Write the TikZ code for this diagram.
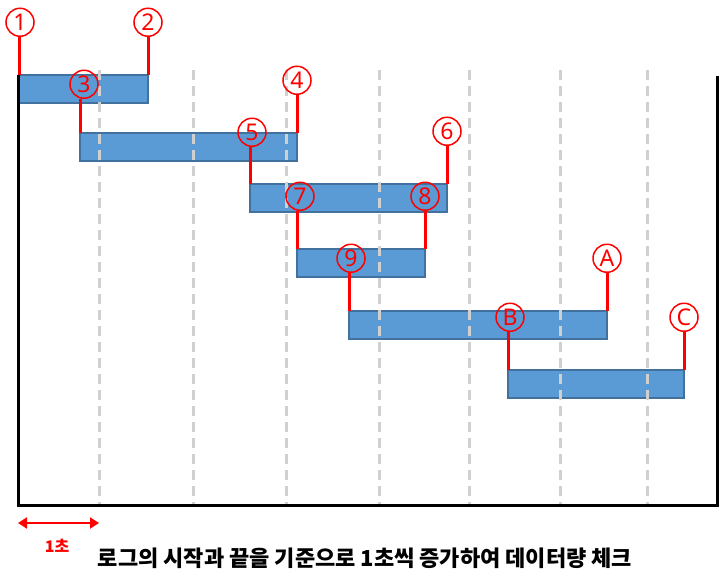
\documentclass[tikz,border=0pt]{standalone}
\usepackage{fontspec}
\setmainfont{Noto Sans}
\newfontfamily\kr{Noto Sans CJK KR}
\usepackage{xcolor}
\usepackage{tikz}
\usetikzlibrary{positioning,arrows.meta}
\definecolor{barblue}{HTML}{5B9BD5}
\definecolor{baredge}{HTML}{41719C}
\definecolor{gridgray}{HTML}{D0D0D0}
\tikzset{
    logbar/.style={rectangle, draw=baredge, fill=barblue, line width=1.5pt, inner sep=0pt, outer sep=0pt, minimum height=28pt, anchor=north west},
    numcirc/.style={circle, draw=red, line width=1.5pt, text=red, minimum size=28pt, inner sep=0pt, font=\fontsize{23}{23}\selectfont},
    redline/.style={red, line width=3pt},
    secline/.style={gridgray, line width=3pt, dash pattern=on 10pt off 6pt}
}

\begin{document}
\begin{tikzpicture}[x=1pt, y=-1pt]
    \useasboundingbox (0,0) rectangle (720,584);

    % log bars
    \node[logbar, minimum width=129pt] (b1) at (19,75) {};
    \node[logbar, minimum width=217pt] (b2) at (80,133) {};
    \node[logbar, minimum width=197pt] (b3) at (250,184) {};
    \node[logbar, minimum width=128pt] (b4) at (297,249) {};
    \node[logbar, minimum width=258pt] (b5) at (349,311) {};
    \node[logbar, minimum width=176pt] (b6) at (508,370) {};

    % 1 second steps
    \draw[secline] (99,70) -- (99,505);
    \draw[secline] (193,70) -- (193,505);
    \draw[secline] (286,70) -- (286,505);
    \draw[secline] (379,70) -- (379,505);
    \draw[secline] (469,70) -- (469,505);
    \draw[secline] (560,70) -- (560,505);
    \draw[secline] (647,70) -- (647,505);

    % frame
    \draw[line width=3pt] (18,75) -- (18,505) -- (717,505) -- (717,76);

    % start and end points
    \node[numcirc, above=38pt of b1.north west, xshift=1pt] (n1) {1};
    \node[numcirc, above=38pt of b1.north east] (n2) {2};
    \node[numcirc, above=34pt of b2.north west, xshift=4pt] (n3) {3};
    \node[numcirc, above=38pt of b2.north east] (n4) {4};
    \node[numcirc, above=37pt of b3.north west, xshift=2pt] (n5) {5};
    \node[numcirc, above=38pt of b3.north east] (n6) {6};
    \node[numcirc, above=38pt of b4.north west, xshift=3pt] (n7) {7};
    \node[numcirc, above=38pt of b4.north east] (n8) {8};
    \node[numcirc, above=38pt of b5.north west, xshift=2pt] (n9) {9};
    \node[numcirc, above=38pt of b5.north east] (na) {A};
    \node[numcirc, above=38pt of b6.north west, xshift=2pt] (nb) {B};
    \node[numcirc, above=38pt of b6.north east] (nc) {C};

    \draw[redline] (n1.south -| b1.north west) -- (b1.north west);
    \draw[redline] (n2) -- (b1.north east);
    \draw[redline] (n3.south -| b2.north west) -- (b2.north west);
    \draw[redline] (n4) -- (b2.north east);
    \draw[redline] (n5.south -| b3.north west) -- (b3.north west);
    \draw[redline] (n6) -- (b3.north east);
    \draw[redline] (n7.south -| b4.north west) -- (b4.north west);
    \draw[redline] (n8) -- (b4.north east);
    \draw[redline] (n9.south -| b5.north west) -- (b5.north west);
    \draw[redline] (na) -- (b5.north east);
    \draw[redline] (nb.south -| b6.north west) -- (b6.north west);
    \draw[redline] (nc) -- (b6.north east);

    % one second
    \coordinate (s0) at (18,523);
    \coordinate (s1) at (99,523);
    \draw[red, line width=2pt, {Triangle[length=9pt,width=11pt]}-{Triangle[length=9pt,width=11pt]}] (s0) -- (s1);
    \node[text=red, font=\kr\bfseries\fontsize{16}{16}\selectfont] (sec) at (57,546) {1초};

    \node[font=\kr\bfseries\fontsize{22}{22}\selectfont] (cap) at (365,558) {로그의 시작과 끝을 기준으로 1초씩 증가하여 데이터량 체크};
\end{tikzpicture}
\end{document}
